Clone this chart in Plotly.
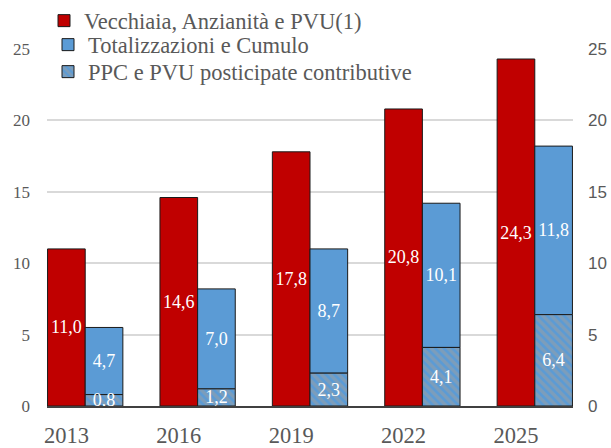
import plotly.graph_objects as go

years = ["2013", "2016", "2019", "2022", "2025"]
vecchiaia = [11.0, 14.6, 17.8, 20.8, 24.3]
totalizzazioni = [4.7, 7.0, 8.7, 10.1, 11.8]
ppc = [0.8, 1.2, 2.3, 4.1, 6.4]

names = ["Vecchiaia, Anzianità e PVU(1)", "Totalizzazioni e Cumulo",
         "PPC e PVU posticipate contributive"]

x = list(range(len(years)))
fmt = lambda v: f"{v:.1f}".replace(".", ",")

SERIF = "Liberation Serif"
GRAY = "#595959"

fig = go.Figure()
fig.add_trace(go.Bar(
    x=x, y=vecchiaia, name=names[0], offsetgroup="a",
    marker=dict(color="#C00000", line=dict(color="#1a1a1a", width=1)),
    text=[fmt(v) for v in vecchiaia], textposition="inside",
    insidetextanchor="middle", textangle=0,
    textfont=dict(color="white", family=SERIF, size=18),
    legend="legend"))
fig.add_trace(go.Bar(
    x=x, y=totalizzazioni, base=ppc, name=names[1], offsetgroup="b",
    marker=dict(color="#5B9BD5", line=dict(color="#1a1a1a", width=1)),
    text=[fmt(v) for v in totalizzazioni], textposition="inside",
    insidetextanchor="middle", textangle=0,
    textfont=dict(color="white", family=SERIF, size=18),
    legend="legend2"))
fig.add_trace(go.Bar(
    x=x, y=ppc, name=names[2], offsetgroup="b",
    marker=dict(color="#5B9BD5", line=dict(color="#1a1a1a", width=1),
                pattern=dict(shape="\\", fgcolor="#A0A0A0", bgcolor="#5B9BD5",
                             size=6, solidity=0.55)),
    text=[fmt(v) for v in ppc], textposition="inside",
    insidetextanchor="middle", textangle=0,
    textfont=dict(color="white", family=SERIF, size=18),
    legend="legend3"))
fig.add_trace(go.Scatter(x=[None], y=[None], yaxis="y2", showlegend=False,
                         hoverinfo="skip"))

W, H = 611, 448
def leg(xpx, ypx):
    return dict(x=xpx / W, y=1 - ypx / H, xref="container", yref="container",
                xanchor="left", yanchor="middle", bgcolor="rgba(0,0,0,0)",
                font=dict(family=SERIF, size=22.5, color=GRAY),
                itemwidth=30, tracegroupgap=0)

fig.update_layout(
    width=W, height=H,
    margin=dict(l=47, r=38, t=49, b=42, autoexpand=False),
    plot_bgcolor="white", paper_bgcolor="white",
    barmode="group", bargap=0.33, bargroupgap=0,
    uniformtext=dict(minsize=18, mode="show"),
    legend=leg(44, 21),
    legend2=leg(48, 45),
    legend3=leg(48, 72),
    xaxis=dict(range=[-0.34, 4.34], tickmode="array",
               tickvals=[i - 0.1675 for i in x], ticktext=years,
               tickfont=dict(family=SERIF, size=22.5, color=GRAY),
               showline=True, linecolor="#404040", linewidth=2,
               showgrid=False, ticks="", zeroline=False, tickangle=0,
               ticklabelstandoff=8),
    yaxis=dict(range=[0, 25], tickvals=[0, 5, 10, 15, 20, 25],
               tickfont=dict(family=SERIF, size=17, color=GRAY),
               showgrid=True, gridcolor="#D9D9D9", gridwidth=2,
               zeroline=False, ticks="", ticklabelstandoff=16),
    yaxis2=dict(range=[0, 25], tickvals=[0, 5, 10, 15, 20, 25],
                overlaying="y", side="right", showgrid=False,
                zeroline=False, ticks="",
                tickfont=dict(family="Liberation Sans", size=17, color=GRAY),
                ticklabelstandoff=14),
)
fig.write_html("out.html", config={"displayModeBar": False},
               post_script="document.body.style.margin='0';"
                           "document.body.style.overflow='hidden';")
